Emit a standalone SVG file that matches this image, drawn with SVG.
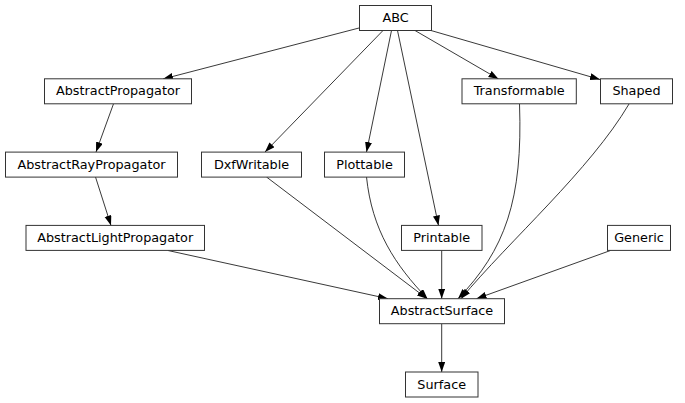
<svg xmlns="http://www.w3.org/2000/svg" width="685" height="403" viewBox="0 0 685 403">
<defs>
<style>
.node rect{fill:#fff;stroke:#333;stroke-width:1}
.node text{font-family:"DejaVu Sans",sans-serif;font-size:12.8px;fill:#000;text-anchor:middle}
.edges path{fill:none;stroke:#222;stroke-width:0.9;marker-end:url(#arr)}
</style>
<marker id="arr" markerUnits="userSpaceOnUse" markerWidth="10" markerHeight="8" refX="10" refY="3.5" orient="auto">
<path d="M0,0 L10,3.5 L0,7 z" fill="#000"/>
</marker>
</defs>
<rect width="685" height="403" fill="#fff"/>
<g id="edges" class="edges">
<path d="M359,28 L163,79"/>
<path d="M383,30.5 L265,152"/>
<path d="M391.5,30.5 L366.5,152"/>
<path d="M397.5,30.5 L438.5,225.5"/>
<path d="M415,30.5 L498.5,79"/>
<path d="M431,30.5 L600,79.5"/>
<path d="M113.5,103.8 L96,152"/>
<path d="M95.5,177 L111,225.5"/>
<path d="M168,250.5 L388,298.7"/>
<path d="M266.5,177 L427,298.7"/>
<path d="M366.5,177 C372,230 395,265 427.5,298.7"/>
<path d="M441.7,250.5 L441.7,298.7"/>
<path d="M519.5,103.8 C523,200 505,250 458,298.7"/>
<path d="M629,104 C590,170 510,240 461,298.7"/>
<path d="M610.5,250.5 L476.5,298.7"/>
<path d="M441.7,324 L441.7,372"/>
</g>
<g id="ABC" class="node"><rect x="359.5" y="5.5" width="72" height="25"/><text x="395.5" y="21.5">ABC</text></g>
<g id="AbstractPropagator" class="node"><rect x="44.5" y="78.8" width="147" height="25"/><text x="118" y="95.3">AbstractPropagator</text></g>
<g id="Transformable" class="node"><rect x="462" y="78.8" width="114.3" height="25"/><text x="519.2" y="95.3">Transformable</text></g>
<g id="Shaped" class="node"><rect x="600.5" y="78.8" width="72" height="25"/><text x="636.5" y="95.3">Shaped</text></g>
<g id="AbstractRayPropagator" class="node"><rect x="5.5" y="152.1" width="172" height="25"/><text x="91.5" y="168.6">AbstractRayPropagator</text></g>
<g id="DxfWritable" class="node"><rect x="201.5" y="152.1" width="100" height="25"/><text x="251.5" y="168.6">DxfWritable</text></g>
<g id="Plottable" class="node"><rect x="324.5" y="152.1" width="80" height="25"/><text x="364.5" y="168.6">Plottable</text></g>
<g id="AbstractLightPropagator" class="node"><rect x="26" y="225.4" width="178.5" height="25"/><text x="115.2" y="241.9">AbstractLightPropagator</text></g>
<g id="Printable" class="node"><rect x="401.5" y="225.4" width="80.5" height="25"/><text x="441.7" y="241.9">Printable</text></g>
<g id="Generic" class="node"><rect x="607.5" y="225.4" width="63" height="25"/><text x="639" y="241.9">Generic</text></g>
<g id="AbstractSurface" class="node"><rect x="379.5" y="298.7" width="125" height="25"/><text x="442" y="315.2">AbstractSurface</text></g>
<g id="Surface" class="node"><rect x="405.5" y="372" width="72.5" height="25"/><text x="441.7" y="388.5">Surface</text></g>
</svg>
